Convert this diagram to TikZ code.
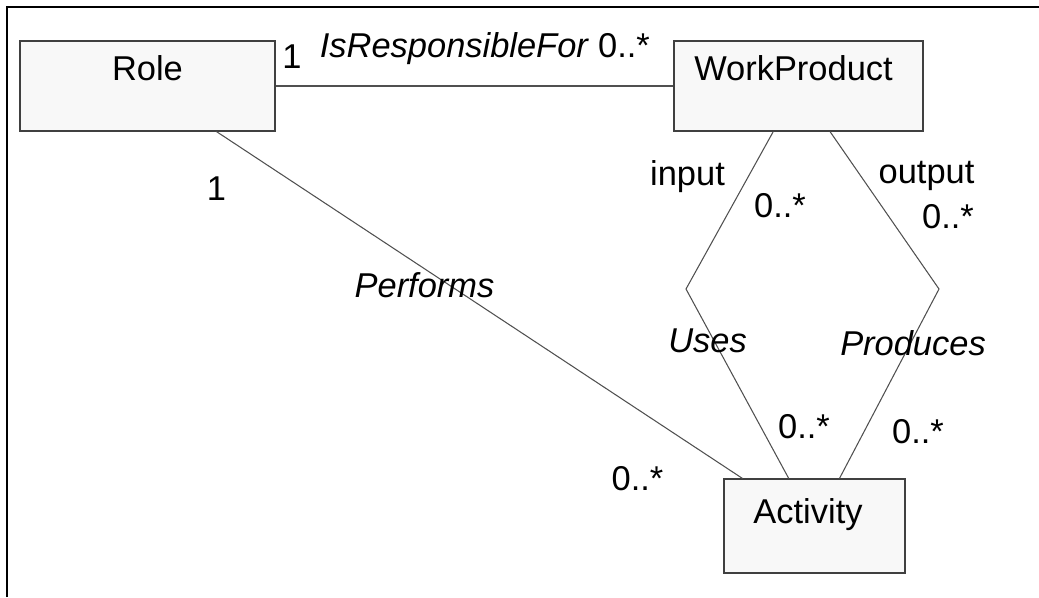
\documentclass[tikz,border=0pt]{standalone}
\usepackage{fontspec}
\setmainfont{Liberation Sans}
\usepackage{tikz}
\usetikzlibrary{calc}
\usepackage{xcolor}
\definecolor{boxfill}{HTML}{F8F8F8}
\definecolor{boxline}{HTML}{404040}
\definecolor{assocline}{HTML}{505050}

\begin{document}
\begin{tikzpicture}[font=\fontsize{9.8}{11.5}\selectfont,
  cls/.style={draw=boxline, fill=boxfill, line width=0.3pt, inner xsep=0pt, inner ysep=0pt, text height=0.39cm, text depth=0.51cm},
  mult/.style={anchor=base, inner sep=0pt},
  assoc/.style={draw=assocline, line width=0.3pt}]
\useasboundingbox (0,0) rectangle (10.39,-5.97);
\draw [line width=0.6pt] (0.067,-5.97) -- (0.067,-0.067) -- (10.39,-0.067);
\node [cls, minimum width=2.55cm] (role) at (1.475,-0.86) {Role};
\node [cls, minimum width=2.49cm] (wp) at (7.985,-0.86) {\hspace{-0.1cm}WorkProduct};
\node [cls, minimum width=1.81cm, text height=0.44cm, text depth=0.50cm] (act) at (8.145,-5.26) {\hspace{-0.13cm}Activity};
\coordinate (usesBend) at (6.86,-2.89);
\coordinate (prodBend) at (9.39,-2.89);
\draw [assoc] (role) -- (wp);
\draw [assoc] (role) -- (act);
\draw [assoc] (wp) -- (usesBend) -- (act);
\draw [assoc] (wp) -- (prodBend) -- (act);
\node [mult] (respOne) at (2.92,-0.68) {1};
\node [mult] (respName) at (4.545,-0.57) {\textit{IsResponsibleFor}};
\node [mult] (respMany) at (6.24,-0.57) {0..*};
\node [mult] (perfOne) at (2.165,-2.00) {1};
\node [mult] (perfName) at (4.245,-2.97) {\textit{Performs}};
\node [mult] (perfMany) at (6.375,-4.90) {0..*};
\node [mult] (usesRole) at (6.875,-1.85) {input};
\node [mult] (usesTop) at (7.80,-2.17) {0..*};
\node [mult] (usesName) at (7.075,-3.52) {\textit{Uses}};
\node [mult] (usesBot) at (8.04,-4.38) {0..*};
\node [mult] (prodRole) at (9.265,-1.83) {output};
\node [mult] (prodTop) at (9.48,-2.28) {0..*};
\node [mult] (prodName) at (9.13,-3.55) {\textit{Produces}};
\node [mult] (prodBot) at (9.18,-4.43) {0..*};
\end{tikzpicture}
\end{document}
